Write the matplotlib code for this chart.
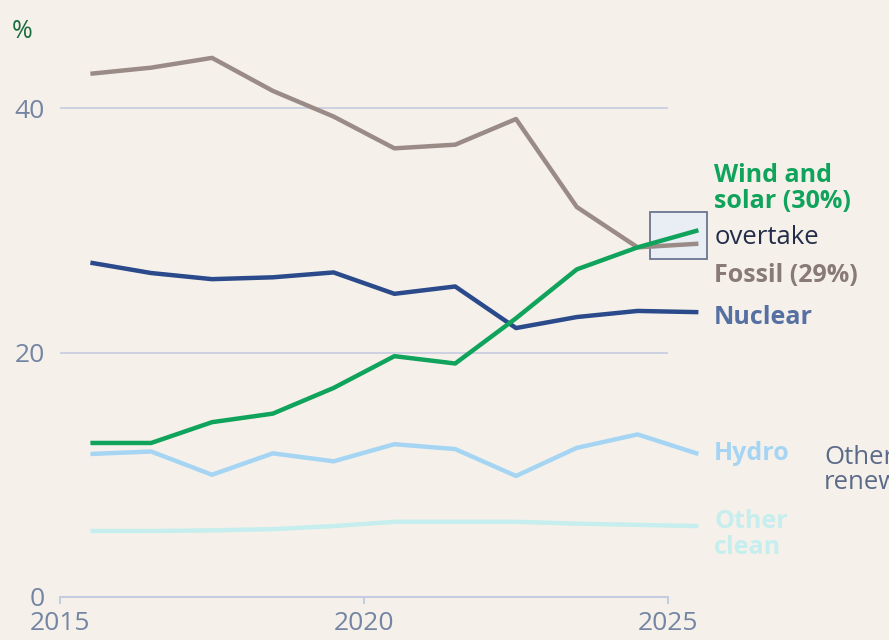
import matplotlib
matplotlib.use("Agg")
import matplotlib.pyplot as plt
from matplotlib.patches import Rectangle

plt.rcParams['font.family'] = ['Open Sans', 'DejaVu Sans']

years = [2015.5 + i for i in range(11)]
fossil = [42.8, 43.3, 44.1, 41.4, 39.3, 36.7, 37.0, 39.1, 31.9, 28.6, 28.9]
wind_solar = [12.6, 12.6, 14.3, 15.0, 17.1, 19.7, 19.1, 22.8, 26.8, 28.6, 30.0]
nuclear = [27.35, 26.5, 26.0, 26.15, 26.55, 24.8, 25.4, 22.0, 22.9, 23.4, 23.3]
hydro = [11.7, 11.9, 10.0, 11.75, 11.1, 12.5, 12.1, 9.9, 12.2, 13.3, 11.7]
other_clean = [5.4, 5.4, 5.45, 5.55, 5.8, 6.15, 6.15, 6.15, 6.0, 5.9, 5.8]

xticks = [2015, 2020, 2025]
yticks = [0, 20, 40]

BG = '#f5f1ea'
C_FOSSIL = '#9b8b87'
C_WIND = '#10a35c'
C_NUC = '#2b4a8b'
C_HYDRO = '#a6d5f4'
C_OTHER = '#c6eeee'
C_GRID = '#c5cbe0'
C_TICK = '#7485a4'

fig = plt.figure(figsize=(8.89, 6.4), dpi=100, facecolor=BG)
ax = fig.add_axes([60/889, 43/640, 829/889, 597/640])
ax.set_facecolor(BG)
ax.set_xlim(2015, 2015 + 829/60.8)
ax.set_ylim(0, 597/12.225)

for s in ['top', 'right', 'left']:
    ax.spines[s].set_visible(False)
ax.spines['bottom'].set_bounds(2015, 2025)
ax.spines['bottom'].set_color(C_GRID)
ax.spines['bottom'].set_linewidth(1.5)

ax.hlines([20, 40], 2015, 2025, color=C_GRID, lw=1.2, zorder=1)

ax.set_xticks(xticks)
ax.set_xticklabels([str(t) for t in xticks])
ax.tick_params(axis='x', direction='out', length=5, width=1.5, color=C_GRID,
               labelsize=19, labelcolor=C_TICK, pad=5)
ax.set_yticks(yticks)
ax.set_yticklabels([str(t) for t in yticks])
ax.tick_params(axis='y', length=0, labelsize=19, labelcolor=C_TICK, pad=11)

lw = 3.2
ax.plot(years, other_clean, color=C_OTHER, lw=lw, zorder=3, solid_capstyle='butt')
ax.plot(years, hydro, color=C_HYDRO, lw=lw, zorder=3, solid_capstyle='butt')
ax.plot(years, nuclear, color=C_NUC, lw=lw, zorder=4, solid_capstyle='butt')
ax.plot(years, wind_solar, color=C_WIND, lw=lw, zorder=5, solid_capstyle='butt')

ax.add_patch(Rectangle((2024.70, 27.65), 0.94, 3.85, facecolor='#e9edf4',
                       edgecolor='#6b7590', lw=1.3, zorder=2))
ax.plot(years, fossil, color=C_FOSSIL, lw=lw, zorder=4, solid_capstyle='butt')

tx = 2025.76
fsb = 18
fsn = 18.5
ax.text(tx, 33.4, 'Wind and\nsolar (30%)', color=C_WIND, fontsize=fsb, fontweight='bold',
        va='center', ha='left', linespacing=1.05, clip_on=False)
ax.text(tx, 29.4, 'overtake', color='#232c48', fontsize=fsn, va='center', ha='left')
ax.text(tx, 26.3, 'Fossil (29%)', color='#8a7a76', fontsize=fsb, fontweight='bold',
        va='center', ha='left')
ax.text(tx, 22.9, 'Nuclear', color='#5670a3', fontsize=fsb, fontweight='bold',
        va='center', ha='left')
ax.text(tx, 11.7, 'Hydro', color=C_HYDRO, fontsize=fsb, fontweight='bold',
        va='center', ha='left')
ax.text(tx, 5.1, 'Other\nclean', color=C_OTHER, fontsize=fsb, fontweight='bold',
        va='center', ha='left', linespacing=1.05)
ax.text(2015 + (824-60)/60.8, 10.35, 'Other\nrenewables', color='#5a6a88', fontsize=fsn,
        va='center', ha='left', linespacing=1.0, clip_on=False)

fig.text(12/889, 1 - 31/640, '%', color='#1a6b3e', fontsize=18, va='center', ha='left')

fig.savefig('out.png', dpi=100, facecolor=BG)
